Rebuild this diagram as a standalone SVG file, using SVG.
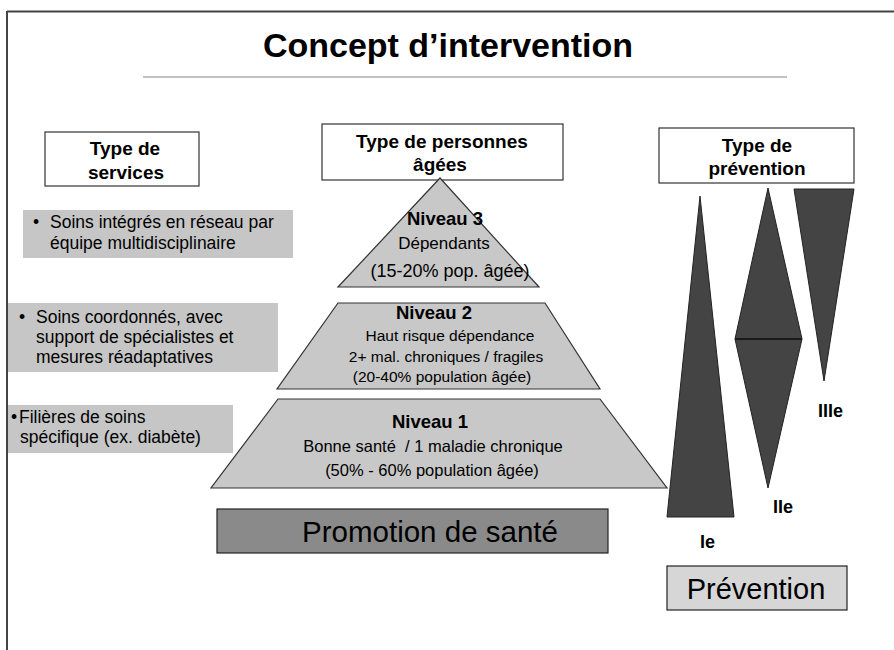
<svg xmlns="http://www.w3.org/2000/svg" width="894" height="650" viewBox="0 0 894 650">
<style>
text{font-family:"Liberation Sans",Arial,sans-serif;fill:#000;white-space:pre}
.hdr{fill:#fff;stroke:#333;stroke-width:1.2}
.hdrt{font-size:19px;font-weight:bold;text-anchor:middle}
.svc{fill:#c6c6c6;stroke:none}
.svct{font-size:17.5px}
.pyr{fill:#c8c8c8;stroke:#333;stroke-width:1.2}
.nv{font-size:18.5px;font-weight:bold;text-anchor:middle}
.pt{text-anchor:middle}
.dark{fill:#444;stroke:#222;stroke-width:1}
.lbl{font-size:18px;font-weight:bold}
</style>
<rect width="894" height="650" fill="#fff"/>
<g id="frame">
<line x1="7" y1="11.5" x2="894" y2="11.5" stroke="#444" stroke-width="2"/>
<line x1="7" y1="11" x2="7" y2="650" stroke="#444" stroke-width="2"/>
</g>
<g id="title">
<text x="448" y="57" font-size="34" font-weight="bold" text-anchor="middle">Concept d’intervention</text>
<line x1="143" y1="77" x2="787" y2="77" stroke="#c0c0c0" stroke-width="2"/>
</g>
<g id="hdr-services">
<rect class="hdr" x="45" y="132" width="154" height="54"/>
<text class="hdrt" x="125" y="155">Type de</text>
<text class="hdrt" x="126" y="179">services</text>
</g>
<g id="hdr-personnes">
<rect class="hdr" x="322" y="124" width="241" height="56"/>
<text class="hdrt" x="442" y="148">Type de personnes</text>
<text class="hdrt" x="440" y="171">âgées</text>
</g>
<g id="hdr-prevention">
<rect class="hdr" x="659" y="128" width="195" height="55"/>
<text class="hdrt" x="757" y="152">Type de</text>
<text class="hdrt" x="757" y="175">prévention</text>
</g>
<g id="svc-3">
<rect class="svc" x="23" y="210" width="270" height="48"/>
<text class="svct" x="33" y="228">•</text>
<text class="svct" x="50" y="228">Soins intégrés en réseau par</text>
<text class="svct" x="50" y="249">équipe multidisciplinaire</text>
</g>
<g id="svc-2">
<rect class="svc" x="8" y="303" width="270" height="69"/>
<text class="svct" x="19" y="323">•</text>
<text class="svct" x="36" y="323">Soins coordonnés, avec</text>
<text class="svct" x="36" y="343">support de spécialistes et</text>
<text class="svct" x="36" y="363">mesures réadaptatives</text>
</g>
<g id="svc-1">
<rect class="svc" x="8" y="405" width="225" height="48"/>
<text class="svct" x="11" y="423">•</text>
<text class="svct" x="19" y="423">Filières de soins</text>
<text class="svct" x="20" y="443">spécifique (ex. diabète)</text>
</g>
<g id="niveau-3">
<polygon class="pyr" points="440,178 539,287 338,287"/>
<text class="nv" x="445" y="225">Niveau 3</text>
<text class="pt" x="444" y="249" font-size="17">Dépendants</text>
<text class="pt" x="450" y="277" font-size="18">(15-20% pop. âgée)</text>
</g>
<g id="niveau-2">
<polygon class="pyr" points="338,303 545,303 600,389 277,389"/>
<text class="nv" x="434" y="319">Niveau 2</text>
<text class="pt" x="450" y="341" font-size="15.5">Haut risque dépendance</text>
<text class="pt" x="446" y="362" font-size="15.5">2+ mal. chroniques / fragiles</text>
<text class="pt" x="442" y="382" font-size="15.5">(20-40% population âgée)</text>
</g>
<g id="niveau-1">
<polygon class="pyr" points="278,399 600,399 667,488 211,488"/>
<text class="nv" x="430" y="428">Niveau 1</text>
<text class="pt" x="433" y="452" font-size="16.5">Bonne santé  / 1 maladie chronique</text>
<text class="pt" x="432" y="476" font-size="16.5">(50% - 60% population âgée)</text>
</g>
<g id="promotion">
<rect x="217" y="509" width="391" height="44" fill="#8a8a8a" stroke="#222" stroke-width="1.2"/>
<text x="430" y="542" font-size="29.5" text-anchor="middle">Promotion de santé</text>
</g>
<g id="prev-I">
<polygon class="dark" points="700,196 734,517 667,517"/>
<text class="lbl" x="700" y="548">Ie</text>
</g>
<g id="prev-II">
<polygon class="dark" points="768,188 802,339 735,339"/>
<polygon class="dark" points="735,339 802,339 768,488"/>
<line x1="735" y1="339" x2="802" y2="339" stroke="#1a1a1a" stroke-width="2"/>
<text class="lbl" x="773" y="513">IIe</text>
</g>
<g id="prev-III">
<polygon class="dark" points="794,189 854,189 824,381"/>
<text class="lbl" x="818" y="417">IIIe</text>
</g>
<g id="prevention">
<rect x="667" y="566" width="180" height="44" fill="#d6d6d6" stroke="#222" stroke-width="1.2"/>
<text x="756" y="599" font-size="29" text-anchor="middle">Prévention</text>
</g>
<g id="connectors"/>
</svg>
